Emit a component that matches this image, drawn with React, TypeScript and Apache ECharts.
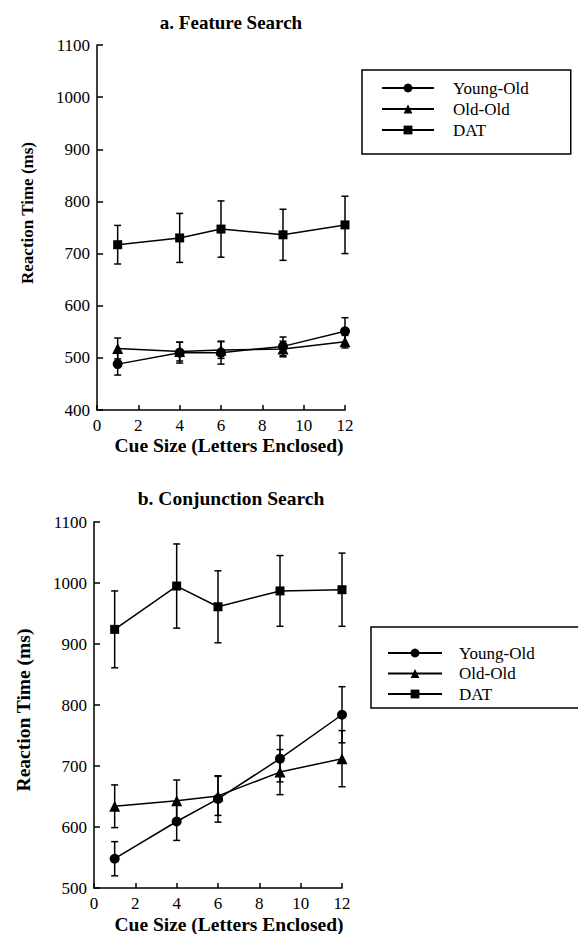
import React, { useEffect, useRef } from "react";
import * as echarts from "echarts";

const cueSizes = [1, 4, 6, 9, 12];
const seriesNames = ["Young-Old", "Old-Old", "DAT"];

const featureYoungOld = [488, 510, 510, 522, 551];
const featureYoungOldErr = [21, 20, 22, 18, 26];
const featureOldOld = [518, 512, 515, 517, 531];
const featureOldOldErr = [20, 18, 16, 15, 12];
const featureDAT = [717, 730, 747, 736, 755];
const featureDATErr = [37, 47, 54, 49, 55];

const conjYoungOld = [548, 609, 646, 712, 784];
const conjYoungOldErr = [28, 31, 38, 38, 46];
const conjOldOld = [634, 643, 651, 690, 712];
const conjOldOldErr = [35, 34, 32, 37, 46];
const conjDAT = [924, 995, 961, 987, 989];
const conjDATErr = [63, 69, 59, 58, 60];

const xTicks = [0, 2, 4, 6, 8, 10, 12];

const FONT = "'Liberation Serif', 'DejaVu Serif', serif";
const BLACK = "#000";

const symbols: Record<string, { symbol: string; size: number }> = {
  "Young-Old": { symbol: "circle", size: 10 },
  "Old-Old": { symbol: "triangle", size: 11 },
  DAT: { symbol: "rect", size: 9 },
};

function pairs(vals: number[]) {
  return cueSizes.map((x, i) => [x, vals[i]]);
}
function errPairs(vals: number[], errs: number[]) {
  return cueSizes.map((x, i) => [x, vals[i] - errs[i], vals[i] + errs[i]]);
}

function errorRender(params: any, api: any) {
  const x = api.value(0);
  const lo = api.coord([x, api.value(1)]);
  const hi = api.coord([x, api.value(2)]);
  const w = 3.5;
  const style = { stroke: BLACK, lineWidth: 1.5 };
  return {
    type: "group",
    children: [
      { type: "line", shape: { x1: lo[0], y1: lo[1], x2: hi[0], y2: hi[1] }, style },
      { type: "line", shape: { x1: lo[0] - w, y1: lo[1], x2: lo[0] + w, y2: lo[1] }, style },
      { type: "line", shape: { x1: hi[0] - w, y1: hi[1], x2: hi[0] + w, y2: hi[1] }, style },
    ],
  };
}

function makeSeries(name: string, vals: number[], errs: number[], idx: number) {
  const s = symbols[name];
  return [
    {
      name: name + " err " + idx,
      type: "custom",
      xAxisIndex: idx,
      yAxisIndex: idx,
      renderItem: errorRender,
      encode: { x: 0, y: [1, 2] },
      data: errPairs(vals, errs),
      z: 2,
    },
    {
      name,
      type: "line",
      xAxisIndex: idx,
      yAxisIndex: idx,
      data: pairs(vals),
      symbol: s.symbol,
      symbolSize: s.size,
      showSymbol: true,
      lineStyle: { color: BLACK, width: 1.5 },
      itemStyle: { color: BLACK },
      z: 3,
    },
  ];
}

function xAxisCfg(idx: number) {
  return {
    type: "value",
    gridIndex: idx,
    min: xTicks[0],
    max: xTicks[xTicks.length - 1],
    interval: 2,
    axisLine: { show: true, lineStyle: { color: BLACK, width: 1.5 } },
    axisTick: { show: true, inside: true, length: 5, lineStyle: { color: BLACK, width: 1.5 } },
    axisLabel: {
      color: BLACK,
      fontFamily: FONT,
      fontSize: 17,
      margin: 7,
      formatter: (v: number) => String(v),
    },
    splitLine: { show: false },
  };
}

function yAxisCfg(idx: number, min: number, max: number) {
  return {
    type: "value",
    gridIndex: idx,
    min,
    max,
    interval: 100,
    axisLine: { show: true, lineStyle: { color: BLACK, width: 1.5 } },
    axisTick: { show: true, inside: true, length: 6, lineStyle: { color: BLACK, width: 1.5 } },
    axisLabel: {
      color: BLACK,
      fontFamily: FONT,
      fontSize: 17,
      margin: 7,
      formatter: (v: number) => String(v),
    },
    splitLine: { show: false },
  };
}

function legendCfg(left: number, top: number, itemWidth: number, textPad: number, itemGap: number, padding: number[]) {
  return {
    show: true,
    orient: "vertical",
    left,
    top,
    data: seriesNames,
    selectedMode: false,
    itemWidth,
    itemHeight: 11,
    itemGap,
    borderColor: BLACK,
    borderWidth: 1.5,
    borderRadius: 0,
    padding,
    backgroundColor: "#fff",
    textStyle: {
      color: BLACK,
      fontFamily: FONT,
      fontSize: 17,
      lineHeight: 17,
      padding: [0, 0, 0, textPad],
    },
  };
}

function textEl(text: string, x: number, y: number, size: number, bold: boolean, rotate = 0) {
  return {
    type: "text",
    x,
    y,
    rotation: rotate,
    style: {
      text,
      fontFamily: FONT,
      fontSize: size,
      fontWeight: bold ? "bold" : "normal",
      fill: BLACK,
      align: "center",
      verticalAlign: "middle",
    },
  };
}

export default function App() {
  const ref = useRef<HTMLDivElement>(null);
  useEffect(() => {
    if (!ref.current) return;
    const chart = echarts.init(ref.current, undefined, { renderer: "svg" });
    chart.setOption({
      animation: false,
      backgroundColor: "#fff",
      grid: [
        { left: 97, top: 45, width: 248, height: 365 },
        { left: 94, top: 522, width: 248, height: 366 },
      ],
      xAxis: [xAxisCfg(0), xAxisCfg(1)],
      yAxis: [yAxisCfg(0, 400, 1100), yAxisCfg(1, 500, 1100)],
      legend: [
        legendCfg(362, 70, 52, 14, 4, [9.5, 42, 15.5, 19]),
        legendCfg(371, 627, 54, 12, 3.5, [17.5, 80, 5.5, 16]),
      ],
      graphic: [
        textEl("a. Feature Search", 231, 22, 19, true),
        textEl("b. Conjunction Search", 231, 498, 19.5, true),
        textEl("Cue Size (Letters Enclosed)", 229, 445, 19.5, true),
        textEl("Cue Size (Letters Enclosed)", 229, 924, 19.5, true),
        textEl("Reaction Time (ms)", 27, 213, 17, true, Math.PI / 2),
        textEl("Reaction Time (ms)", 23, 710, 19.5, true, Math.PI / 2),
      ],
      series: [
        ...makeSeries("Young-Old", featureYoungOld, featureYoungOldErr, 0),
        ...makeSeries("Old-Old", featureOldOld, featureOldOldErr, 0),
        ...makeSeries("DAT", featureDAT, featureDATErr, 0),
        ...makeSeries("Young-Old", conjYoungOld, conjYoungOldErr, 1),
        ...makeSeries("Old-Old", conjOldOld, conjOldOldErr, 1),
        ...makeSeries("DAT", conjDAT, conjDATErr, 1),
      ],
    });
    return () => chart.dispose();
  }, []);
  return (
    <div
      ref={ref}
      style={{ position: "absolute", left: 0, top: 0, width: 578, height: 934, background: "#fff" }}
    />
  );
}
